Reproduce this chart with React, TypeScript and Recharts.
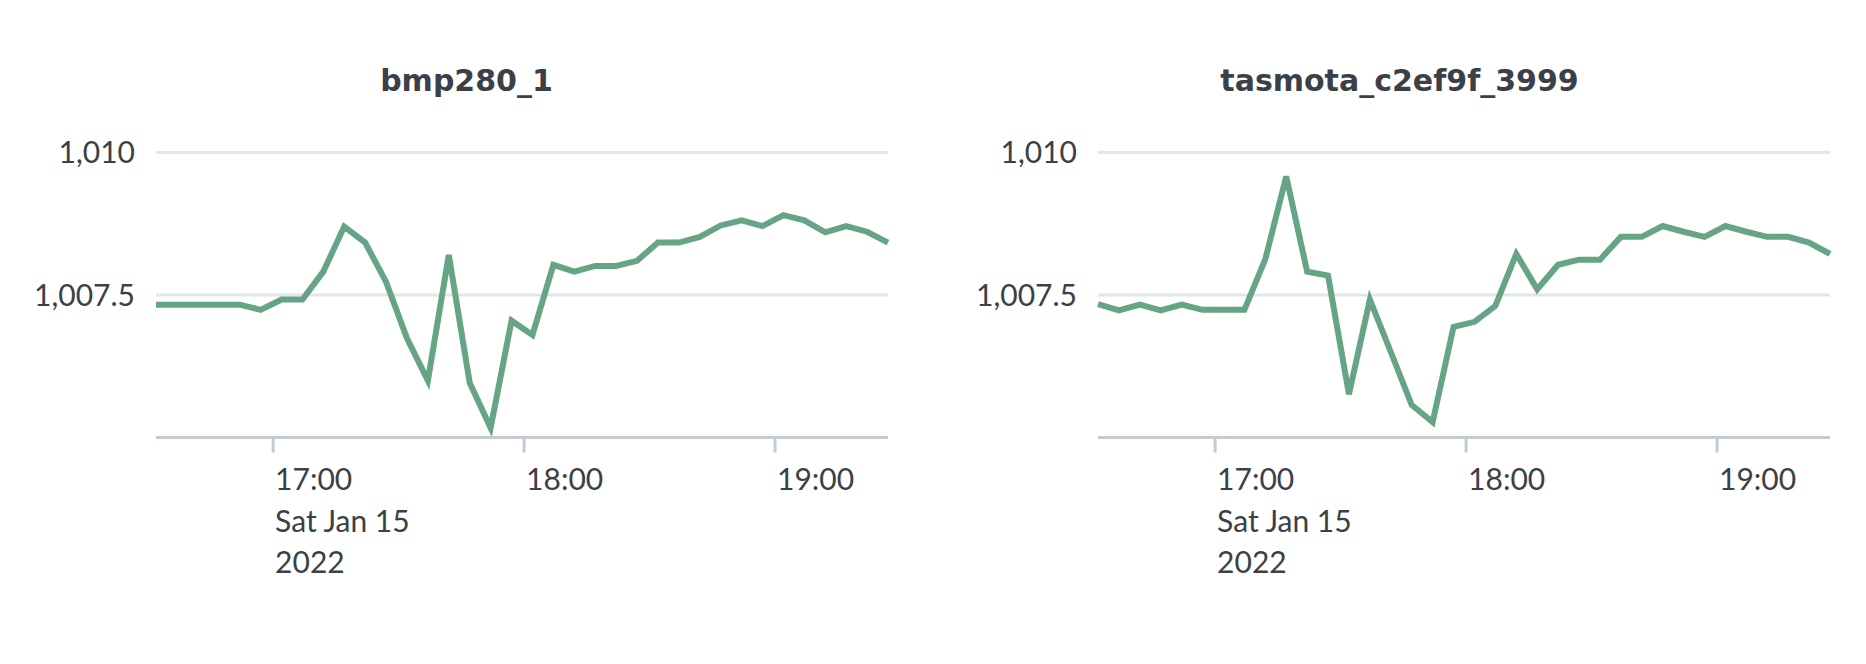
import { LineChart, Line, XAxis, YAxis, CartesianGrid } from 'recharts'

const times = [
  '16:32', '16:37', '16:42', '16:47', '16:52', '16:57', '17:02', '17:07', '17:12',
  '17:17', '17:22', '17:27', '17:32', '17:37', '17:42', '17:47', '17:52', '17:57',
  '18:02', '18:07', '18:12', '18:17', '18:22', '18:27', '18:32', '18:37', '18:42',
  '18:47', '18:52', '18:57', '19:02', '19:07', '19:12', '19:17', '19:22', '19:27',
]

const bmp280 = [
  1007.33, 1007.33, 1007.33, 1007.33, 1007.33, 1007.24, 1007.42, 1007.42, 1007.91,
  1008.7, 1008.42, 1007.73, 1006.74, 1006.0, 1008.2, 1005.96, 1005.17, 1007.05,
  1006.8, 1008.03, 1007.91, 1008.01, 1008.01, 1008.1, 1008.42, 1008.42, 1008.52,
  1008.72, 1008.81, 1008.71, 1008.9, 1008.81, 1008.6, 1008.71, 1008.61, 1008.42,
]

const tasmota = [
  1007.34, 1007.23, 1007.33, 1007.23, 1007.33, 1007.24, 1007.24, 1007.24, 1008.13,
  1009.58, 1007.91, 1007.84, 1005.76, 1007.42, 1006.5, 1005.57, 1005.27, 1006.94,
  1007.03, 1007.31, 1008.22, 1007.6, 1008.03, 1008.12, 1008.12, 1008.52, 1008.52,
  1008.71, 1008.61, 1008.52, 1008.71, 1008.61, 1008.52, 1008.52, 1008.42, 1008.22,
]

const xTicks = ['17:00', '18:00', '19:00']
const yTicks = [1007.5, 1010]
const dateLine = 'Sat Jan 15'
const yearLine = '2022'

const FONT = 'Lato, "Open Sans", sans-serif'
const TITLE_FONT = '"DejaVu Sans", sans-serif'
const TEXT = '#3b4048'
const GREEN = '#65a585'

const toMin = (t: string) => {
  const [h, m] = t.split(':').map(Number)
  return h * 60 + m
}
const fmtMin = (v: number) => {
  const h = Math.floor(v / 60)
  const m = v % 60
  return `${h}:${String(m).padStart(2, '0')}`
}

function TimeTick({ x, y, payload }: any) {
  const first = payload.value === toMin(xTicks[0])
  const lines = first ? [fmtMin(payload.value), dateLine, yearLine] : [fmtMin(payload.value)]
  return (
    <text x={x + 2} y={y} fill={TEXT} fontSize={30} fontFamily={FONT} textAnchor="start">
      {lines.map((l, i) => (
        <tspan key={i} x={x + 2} dy={i === 0 ? 37.5 : 41.5}>{l}</tspan>
      ))}
    </text>
  )
}

function Panel({ title, values, left, yWidth, right }: any) {
  const data = times.map((t, i) => ({ t: toMin(t), v: values[i] }))
  return (
    <div style={{ position: 'absolute', left, top: 0, width: 933, height: 664 }}>
      <div style={{
        position: 'absolute', left: 0, top: 66, width: 933, textAlign: 'center',
        fontFamily: TITLE_FONT, fontWeight: 700, fontSize: 30, lineHeight: '30px', color: TEXT,
      }}>{title}</div>
      <LineChart width={933} height={664} data={data} margin={{ top: 124, right, bottom: 0, left: 0 }}>
        <CartesianGrid horizontal vertical={false} horizontalValues={yTicks} stroke="#e2e5e9" strokeWidth={3} />
        <XAxis
          dataKey="t"
          type="number"
          domain={['dataMin', 'dataMax']}
          ticks={xTicks.map(toMin)}
          height={226.5}
          axisLine={{ stroke: '#c5cbd3', strokeWidth: 3 }}
          tickLine={{ stroke: '#c5cbd3', strokeWidth: 3 }}
          tickSize={15}
          tickMargin={0}
          tick={<TimeTick />}
          interval={0}
        />
        <YAxis
          domain={[1005, 1010.5]}
          ticks={yTicks}
          width={yWidth}
          axisLine={false}
          tickLine={false}
          tickSize={0}
          tickMargin={21}
          tick={{ fill: TEXT, fontSize: 30, fontFamily: FONT }}
          tickFormatter={(v: number) => v.toLocaleString('en-US', { maximumFractionDigits: 1 })}
        />
        <Line
          type="linear"
          dataKey="v"
          stroke={GREEN}
          strokeWidth={6}
          dot={false}
          activeDot={false}
          isAnimationActive={false}
        />
      </LineChart>
    </div>
  )
}

export default function App() {
  return (
    <div style={{ position: 'absolute', left: 0, top: 0, width: 1866, height: 664, background: '#fff' }}>
      <Panel title="bmp280_1" values={bmp280} left={0} yWidth={156} right={45} />
      <Panel title="tasmota_c2ef9f_3999" values={tasmota} left={933} yWidth={165} right={36} />
    </div>
  )
}
